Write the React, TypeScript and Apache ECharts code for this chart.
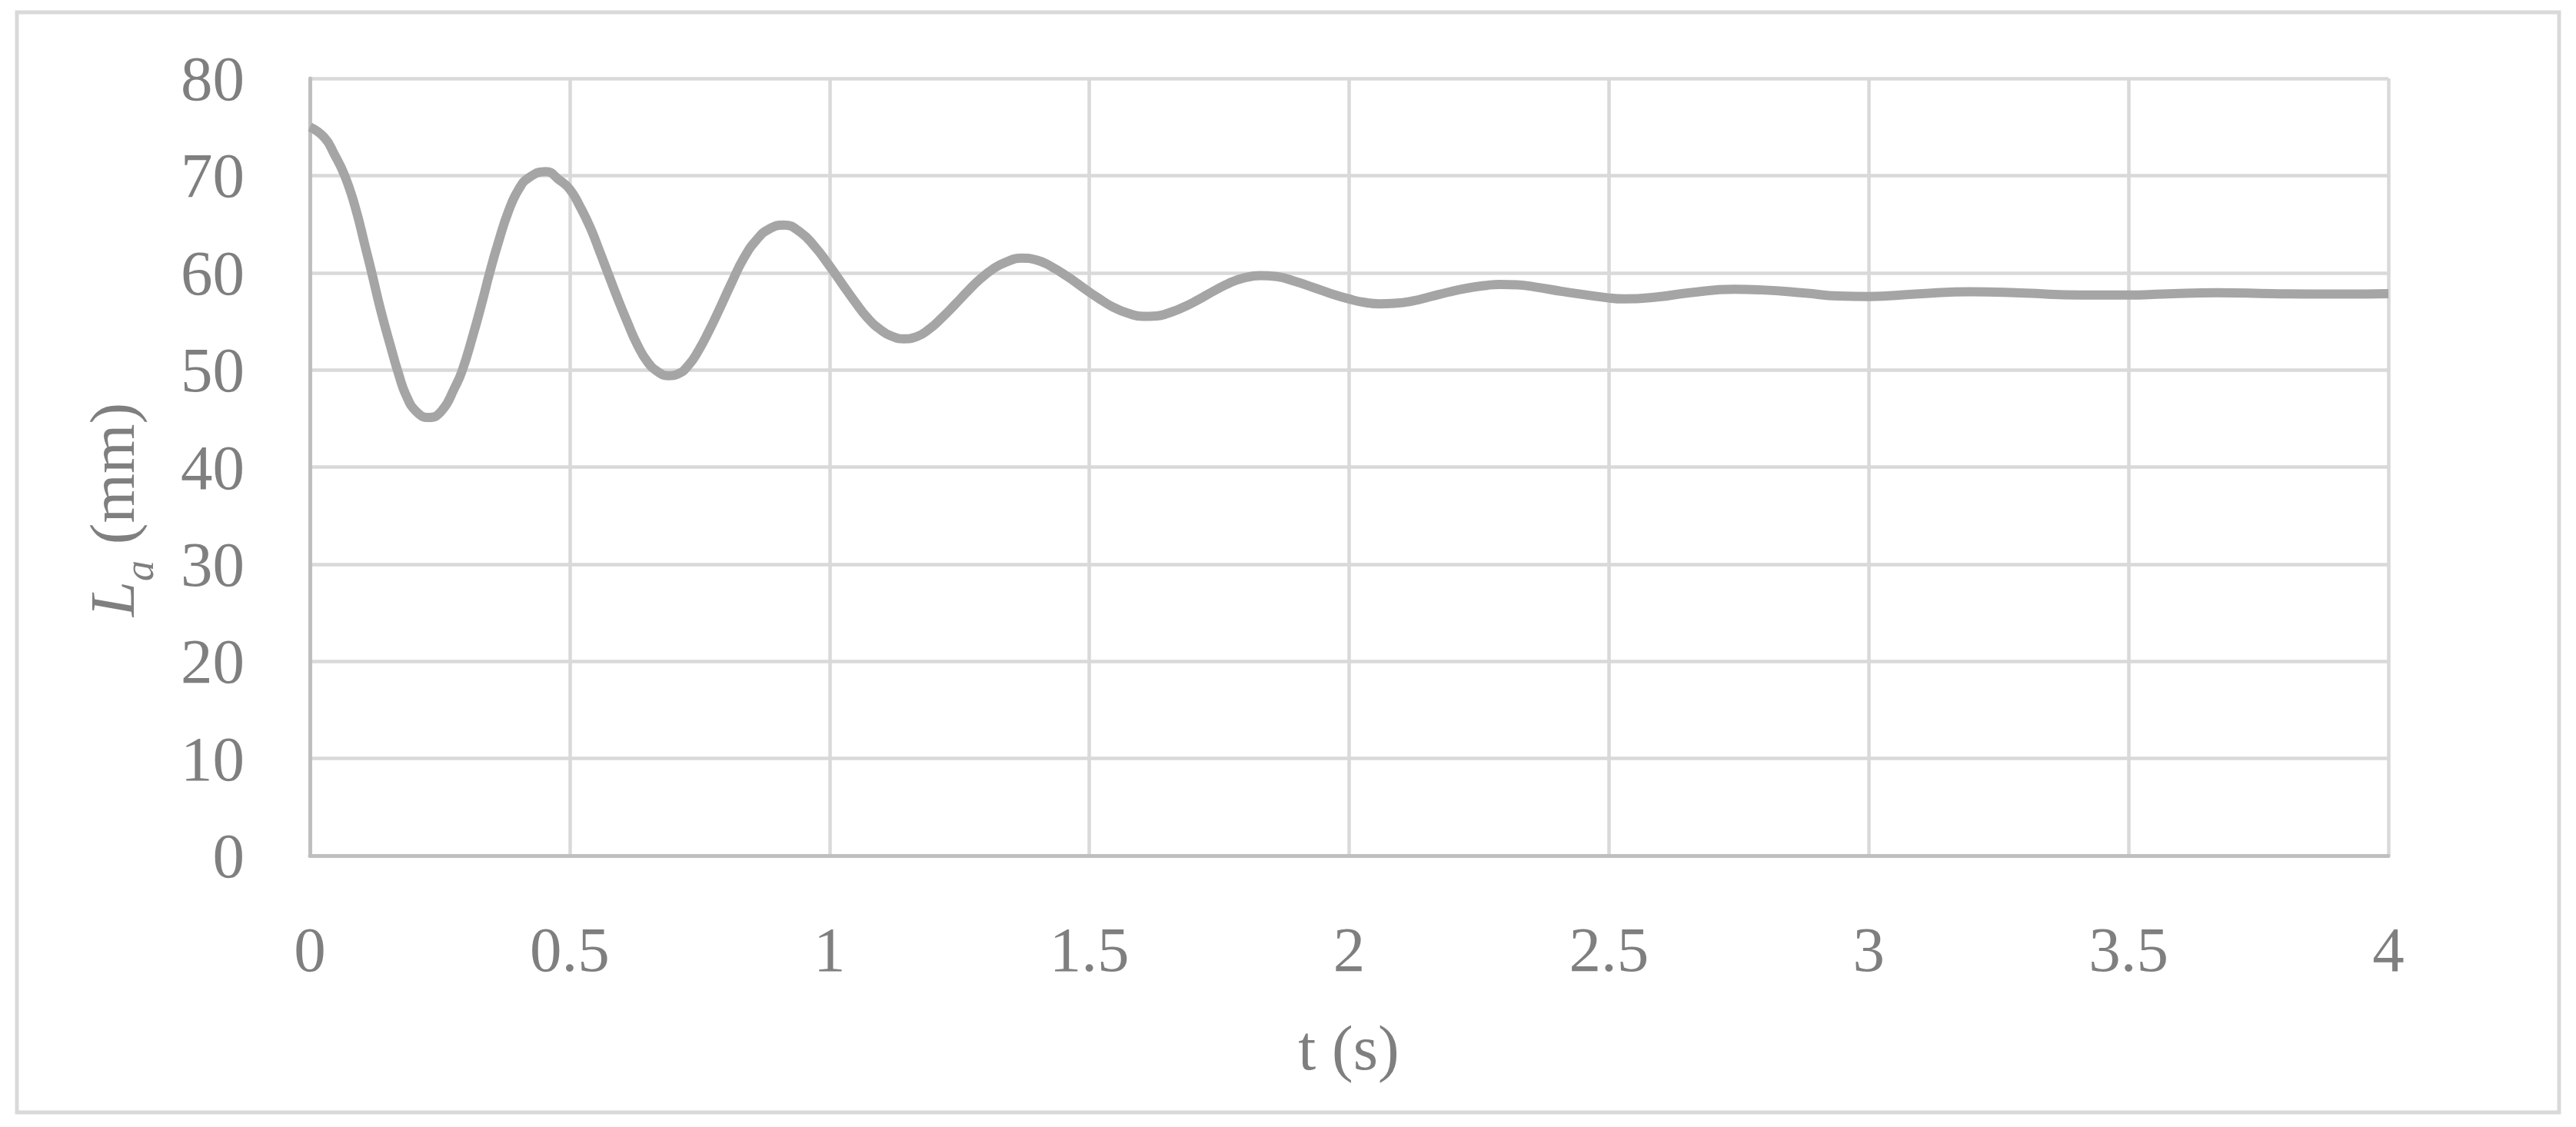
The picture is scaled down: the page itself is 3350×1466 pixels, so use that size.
import React, { useEffect, useRef } from "react";
import * as echarts from "echarts";

// time (s)
const tValues: number[] = [
  0, 0.028, 0.047, 0.067, 0.087, 0.106, 0.119, 0.136, 0.156, 0.17, 0.185, 0.205, 0.229, 0.254, 0.279, 0.293,
  0.313, 0.333, 0.345, 0.362, 0.382, 0.402, 0.422, 0.454, 0.481, 0.5, 0.52, 0.54, 0.559, 0.574, 0.589, 0.611,
  0.63, 0.65, 0.67, 0.689, 0.709, 0.729, 0.748, 0.768, 0.786, 0.811, 0.835, 0.86, 0.884, 0.912, 0.943, 0.973,
  1.0, 1.025, 1.049, 1.074, 1.099, 1.123, 1.143, 1.167, 1.192, 1.217, 1.241, 1.266, 1.291, 1.315, 1.34, 1.369,
  1.399, 1.428, 1.458, 1.487, 1.517, 1.546, 1.576, 1.603, 1.63, 1.65, 1.679, 1.709, 1.739, 1.768, 1.797, 1.829,
  1.861, 1.896, 1.93, 1.965, 2.0, 2.029, 2.058, 2.088, 2.123, 2.157, 2.191, 2.226, 2.265, 2.29, 2.324, 2.356,
  2.413, 2.5, 2.53, 2.593, 2.656, 2.741, 2.794, 2.878, 2.942, 3.0, 3.09, 3.196, 3.301, 3.407, 3.5, 3.566,
  3.671, 3.777, 3.883, 4.0,
];

// L_a (mm)
const laValues: number[] = [
  75.0, 73.9, 72.2, 70.0, 66.8, 62.8, 60.0, 56.2, 52.3, 49.7, 47.4, 45.7, 45.1, 45.8, 48.2, 49.9,
  53.4, 57.3, 59.8, 63.0, 66.3, 68.6, 69.8, 70.4, 69.5, 68.6, 66.8, 64.6, 62.0, 59.9, 57.8, 54.9,
  52.6, 50.8, 49.8, 49.4, 49.6, 50.5, 52.0, 54.0, 56.0, 58.9, 61.5, 63.4, 64.5, 64.9, 64.2, 62.6,
  60.7, 58.8, 57.0, 55.3, 54.1, 53.4, 53.2, 53.4, 54.2, 55.4, 56.7, 58.1, 59.4, 60.4, 61.1, 61.5,
  61.3, 60.6, 59.6, 58.5, 57.4, 56.45, 55.8, 55.5, 55.55, 55.8, 56.4, 57.2, 58.1, 58.9, 59.45, 59.7,
  59.6, 59.1, 58.5, 57.85, 57.3, 56.95, 56.8, 56.85, 57.1, 57.55, 58.0, 58.4, 58.7, 58.8, 58.75, 58.55,
  58.05, 57.4, 57.3, 57.5, 57.95, 58.3, 58.23, 57.9, 57.6, 57.55, 57.8, 58.05, 57.9, 57.7, 57.7, 57.8,
  57.95, 57.85, 57.8, 57.85,
];

const xAxisTitle = "t (s)";
const yAxisTitleMain = "L";
const yAxisTitleSub = "a";
const yAxisTitleUnit = " (mm)";

const FONT = "'Liberation Serif', 'DejaVu Serif', serif";
const TEXT = "#7f7f7f";

export default function App() {
  const ref = useRef<HTMLDivElement>(null);

  useEffect(() => {
    document.body.style.margin = "0";
    if (!ref.current) return;
    const chart = echarts.init(ref.current, undefined, { renderer: "svg" });
    const data = tValues.map((t, i) => [t, laValues[i]]);
    chart.setOption({
      animation: false,
      backgroundColor: "#ffffff",
      grid: { left: 403, top: 102, width: 2703, height: 1011 },
      xAxis: {
        type: "value",
        min: 0,
        max: 4,
        interval: 0.5,
        axisLine: { show: true, lineStyle: { color: "#bfbfbf", width: 5 } },
        axisTick: { show: false },
        axisLabel: { color: TEXT, fontSize: 83, fontFamily: FONT, margin: 80 },
        splitLine: { show: true, lineStyle: { color: "#d9d9d9", width: 4.5 } },
      },
      yAxis: {
        type: "value",
        min: 0,
        max: 80,
        interval: 10,
        axisLine: { show: true, lineStyle: { color: "#bfbfbf", width: 5 } },
        axisTick: { show: false },
        axisLabel: { color: TEXT, fontSize: 83, fontFamily: FONT, margin: 85 },
        splitLine: { show: true, lineStyle: { color: "#d9d9d9", width: 4.5 } },
      },
      series: [
        {
          type: "line",
          data,
          smooth: 0.5,
          showSymbol: false,
          lineStyle: { color: "#a5a5a5", width: 12 },
          itemStyle: { color: "#a5a5a5" },
        },
      ],
      graphic: [
        {
          type: "rect",
          silent: true,
          shape: { x: 22, y: 16, width: 3306, height: 1431 },
          style: { fill: "none", stroke: "#d9d9d9", lineWidth: 5 },
        },
        {
          type: "text",
          x: 1754,
          y: 1363,
          style: {
            text: xAxisTitle,
            fill: TEXT,
            fontSize: 83,
            fontFamily: FONT,
            align: "center",
            verticalAlign: "middle",
          },
        },
        {
          type: "text",
          x: 146,
          y: 663,
          rotation: Math.PI / 2,
          style: {
            text: `{i|${yAxisTitleMain}}{s|${yAxisTitleSub}}{n|${yAxisTitleUnit}}`,
            align: "center",
            verticalAlign: "middle",
            fill: TEXT,
            fontSize: 83,
            fontFamily: FONT,
            rich: {
              i: { fontSize: 83, fontStyle: "italic", fontFamily: FONT, fill: TEXT, color: TEXT },
              s: {
                fontSize: 54,
                fontStyle: "italic",
                fontFamily: FONT,
                fill: TEXT,
                color: TEXT,
                lineHeight: 124,
                verticalAlign: "bottom",
              },
              n: { fontSize: 83, fontFamily: FONT, fill: TEXT, color: TEXT },
            },
          },
        },
      ],
    });
    return () => chart.dispose();
  }, []);

  return <div ref={ref} style={{ width: 3350, height: 1466 }} />;
}
